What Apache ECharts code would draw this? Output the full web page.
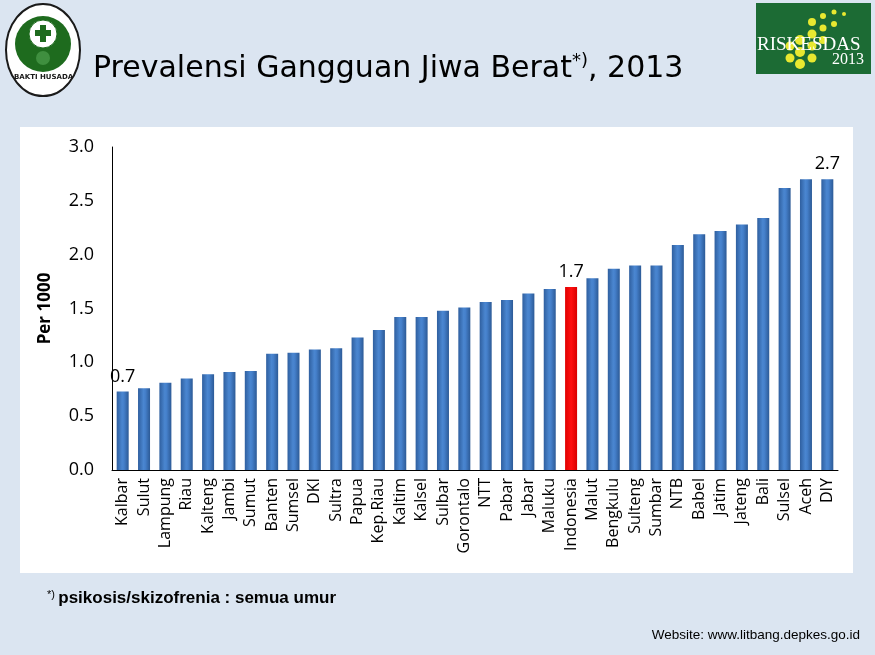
<!DOCTYPE html>
<html><head><meta charset="utf-8">
<script src="https://cdn.jsdelivr.net/npm/echarts@6/dist/echarts.min.js"></script>
<style>html,body{margin:0;padding:0;background:#dbe5f1;}#c{width:875px;height:655px;}</style>
</head><body><div id="c"></div>
<script>
const categories = ["Kalbar","Sulut","Lampung","Riau","Kalteng","Jambi","Sumut","Banten","Sumsel","DKI","Sultra","Papua","Kep.Riau","Kaltim","Kalsel","Sulbar","Gorontalo","NTT","Pabar","Jabar","Maluku","Indonesia","Malut","Bengkulu","Sulteng","Sumbar","NTB","Babel","Jatim","Jateng","Bali","Sulsel","Aceh","DIY"];
const values = [0.73,0.76,0.81,0.85,0.89,0.91,0.92,1.08,1.09,1.12,1.13,1.23,1.30,1.42,1.42,1.48,1.51,1.56,1.58,1.64,1.68,1.70,1.78,1.87,1.90,1.90,2.09,2.19,2.22,2.28,2.34,2.62,2.70,2.70];
const labelled = {"Kalbar":"0.7","Indonesia":"1.7","DIY":"2.7"};
const highlight = "Indonesia";
const yTicks = [0,0.5,1.0,1.5,2.0,2.5,3.0];

const blue = new echarts.graphic.LinearGradient(0,0,1,0,[
  {offset:0,color:'#2f5f9f'},{offset:0.45,color:'#4a86d0'},{offset:0.6,color:'#4580cb'},{offset:1,color:'#2c5a96'}]);
const red = new echarts.graphic.LinearGradient(0,0,1,0,[
  {offset:0,color:'#e00000'},{offset:0.5,color:'#ff1010'},{offset:1,color:'#d80000'}]);

const seriesData = categories.map((c,i)=>{
  const item = {value: values[i], itemStyle:{color: c===highlight ? red : blue}};
  if (labelled[c]) item.label = {show:true, position:'top', formatter: labelled[c], distance: 6};
  return item;
});

const chart = echarts.init(document.getElementById('c'), null, {renderer:'canvas'});
chart.setOption({
  backgroundColor:'#dbe5f1',
  animation:false,
  graphic:[
    {type:'rect', shape:{x:20,y:127,width:833,height:446}, style:{fill:'#ffffff'}, z:-10},
    // left logo
    {type:'ellipse', shape:{cx:43,cy:50,rx:37,ry:46}, style:{fill:'#ffffff', stroke:'#1a1a1a', lineWidth:2}},
    {type:'circle', shape:{cx:43,cy:44,r:28}, style:{fill:'#1e6b1e'}},
    {type:'circle', shape:{cx:43,cy:34,r:14}, style:{fill:'#ffffff', stroke:'#1e6b1e', lineWidth:1}},
    {type:'rect', shape:{x:40,y:25,width:6,height:17}, style:{fill:'#1e6b1e'}},
    {type:'rect', shape:{x:35,y:30,width:16,height:6}, style:{fill:'#1e6b1e'}},
    {type:'circle', shape:{cx:43,cy:58,r:7}, style:{fill:'#3f8f3f'}},
    {type:'text', left:14, top:74, style:{text:'BAKTI HUSADA', font:'bold 7px "DejaVu Sans"', fill:'#1a1a1a'}},
    // right logo
    {type:'rect', shape:{x:756,y:3,width:115,height:71}, style:{fill:'#1c6b34'}},
    {type:'circle', shape:{cx:800,cy:64,r:5}, style:{fill:'#e8e830'}},
    {type:'circle', shape:{cx:800,cy:52,r:5}, style:{fill:'#e8e830'}},
    {type:'circle', shape:{cx:800,cy:40,r:5}, style:{fill:'#e8e830'}},
    {type:'circle', shape:{cx:812,cy:58,r:4.5}, style:{fill:'#e8e830'}},
    {type:'circle', shape:{cx:812,cy:46,r:4.5}, style:{fill:'#e8e830'}},
    {type:'circle', shape:{cx:812,cy:34,r:4.5}, style:{fill:'#e8e830'}},
    {type:'circle', shape:{cx:812,cy:22,r:4}, style:{fill:'#e8e830'}},
    {type:'circle', shape:{cx:823,cy:40,r:4}, style:{fill:'#e8e830'}},
    {type:'circle', shape:{cx:823,cy:28,r:3.5}, style:{fill:'#e8e830'}},
    {type:'circle', shape:{cx:823,cy:16,r:3}, style:{fill:'#e8e830'}},
    {type:'circle', shape:{cx:834,cy:24,r:3}, style:{fill:'#e8e830'}},
    {type:'circle', shape:{cx:834,cy:12,r:2.5}, style:{fill:'#e8e830'}},
    {type:'circle', shape:{cx:844,cy:14,r:2}, style:{fill:'#e8e830'}},
    {type:'circle', shape:{cx:790,cy:46,r:4.5}, style:{fill:'#e8e830'}},
    {type:'circle', shape:{cx:790,cy:58,r:4.5}, style:{fill:'#e8e830'}},
    {type:'text', left:757, top:36, style:{text:'RISKESDAS', font:'19px "Liberation Serif"', fill:'#ffffff'}},
    {type:'text', left:832, top:52, style:{text:'2013', font:'16px "Liberation Serif"', fill:'#ffffff'}},
    // title
    {type:'text', left:93, top:52, style:{
      text:'{t|Prevalensi Gangguan Jiwa Berat}{s|*)}{t|, 2013}',
      rich:{t:{font:'30px "DejaVu Sans"', fill:'#000000', verticalAlign:'bottom'},
            s:{font:'18px "DejaVu Sans"', fill:'#000000', verticalAlign:'top', padding:[0,0,14,0]}}}},
    // footnote
    {type:'text', left:47, top:589, style:{text:'{s|*)} {b|psikosis/skizofrenia : semua umur}',
      rich:{s:{font:'11px "Liberation Sans"', fill:'#000', verticalAlign:'top', padding:[0,0,7,0]},
            b:{font:'bold 17px "Liberation Sans"', fill:'#000'}}}},
    {type:'text', right:15, top:628, style:{text:'Website: www.litbang.depkes.go.id', font:'13.5px "Liberation Sans"', fill:'#000'}}
  ],
  grid:{left:112, right:37, top:147, bottom:185, containLabel:false},
  xAxis:{
    type:'category', data:categories,
    axisLine:{show:true, lineStyle:{color:'#000', width:1}},
    axisTick:{show:false},
    axisLabel:{rotate:90, interval:0, color:'#000', fontSize:16, fontFamily:'"Open Sans"', margin:8}
  },
  yAxis:{
    type:'value', min:yTicks[0], max:yTicks[yTicks.length-1], interval:0.5,
    name:'Per 1000', nameLocation:'middle', nameGap:58, nameRotate:90,
    nameTextStyle:{fontSize:17, fontWeight:'bold', color:'#000', fontFamily:'"Open Sans"'},
    axisLine:{show:true, lineStyle:{color:'#000', width:1}},
    axisTick:{show:false},
    splitLine:{show:false},
    axisLabel:{color:'#000', fontSize:18, fontFamily:'"Open Sans"', margin:18, formatter:v=>v.toFixed(1)}
  },
  series:[{
    type:'bar', data:seriesData, barWidth:12,
    label:{show:false, color:'#000', fontSize:18, fontFamily:'"Open Sans"'}
  }]
});
</script></body></html>
